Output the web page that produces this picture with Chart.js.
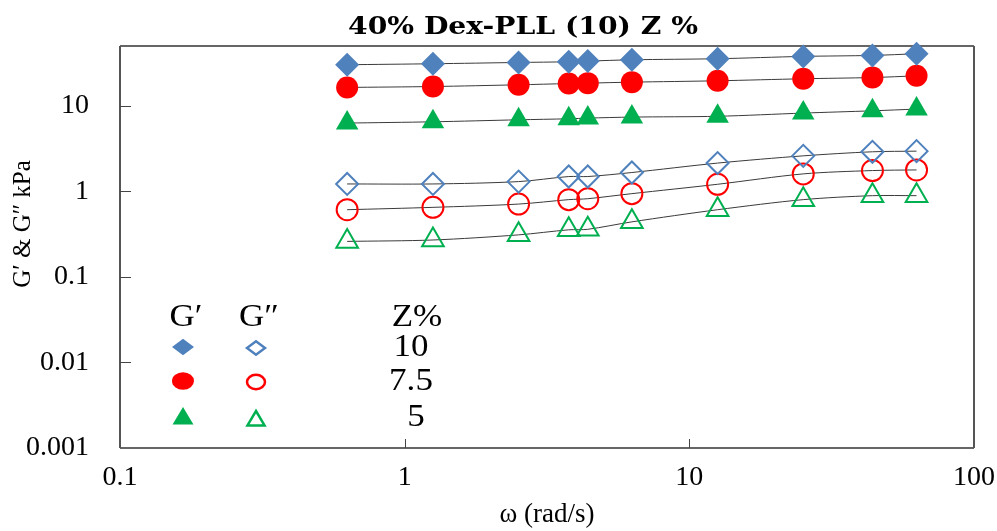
<!DOCTYPE html>
<html><head><meta charset="utf-8">
<script src="https://cdn.jsdelivr.net/npm/chart.js@4/dist/chart.umd.min.js"></script>
<style>html,body{margin:0;padding:0;background:#fff}#wrap{width:997px;height:531px}</style>
</head><body><div id="wrap"><canvas id="c" width="997" height="531"></canvas></div>
<script>
// ---- data ----
const omega  = [0.628, 1.257, 2.513, 3.77, 4.398, 6.283, 12.57, 25.13, 43.98, 62.83];
const gp10   = [30.2, 31.0, 32.1, 32.7, 33.3, 34.5, 35.5, 37.8, 38.8, 40.6];
const gp75   = [16.4, 16.8, 17.6, 18.2, 18.4, 18.9, 19.6, 20.7, 21.4, 22.4];
const gp5    = [6.28, 6.50, 6.86, 7.05, 7.18, 7.38, 7.54, 8.22, 8.74, 9.15];
const gpp10  = [1.22, 1.22, 1.30, 1.49, 1.49, 1.66, 2.14, 2.60, 2.90, 2.95];
const gpp75  = [0.61, 0.65, 0.71, 0.80, 0.82, 0.94, 1.21, 1.60, 1.75, 1.78];
const gpp5   = [0.26, 0.27, 0.31, 0.355, 0.36, 0.44, 0.61, 0.80, 0.89, 0.89];
const xTicks = [0.1, 1, 10, 100];
const yTicks = [0.001, 0.01, 0.1, 1, 10];
const zLabels = ['10', '7.5', '5'];

const BLUE = '#4F81BD', RED = '#FF0000', GREEN = '#00B050';
const SERIF = '"Liberation Serif", "Times New Roman", serif';

function pts(ys){ return omega.map((x,i)=>({x:x, y:ys[i]})); }
function ds(label, ys, color, style, filled, r){
  return {
    label, data: pts(ys), showLine: true, clip: false,
    borderColor: '#3a3a3a', borderWidth: 1, tension: 0.3,
    pointStyle: style, pointRadius: r, pointHoverRadius: r,
    pointBackgroundColor: filled ? color : 'rgba(0,0,0,0)',
    pointBorderColor: color, pointBorderWidth: filled ? 0 : 2
  };
}

function shape(ctx, kind, x, y, r, color, filled){
  ctx.beginPath();
  if (kind === 'diamond'){
    ctx.moveTo(x - r, y); ctx.lineTo(x, y - r*0.75); ctx.lineTo(x + r, y); ctx.lineTo(x, y + r*0.75); ctx.closePath();
  } else if (kind === 'circle'){
    ctx.ellipse(x, y, r, r*0.8, 0, 0, Math.PI*2);
  } else {
    ctx.moveTo(x, y - r); ctx.lineTo(x + r*0.95, y + r*0.6); ctx.lineTo(x - r*0.95, y + r*0.6); ctx.closePath();
  }
  if (filled){ ctx.fillStyle = color; ctx.fill(); }
  else { ctx.strokeStyle = color; ctx.lineWidth = 2.5; ctx.stroke(); }
}

function wideText(ctx, txt, x, y, sx){
  ctx.save(); ctx.translate(x, y); ctx.scale(sx, 1); ctx.fillText(txt, 0, 0); ctx.restore();
}

const frame = {
  id: 'frame',
  beforeDatasetsDraw(chart){
    const {ctx, chartArea:a, scales} = chart;
    ctx.save();
    ctx.lineCap = 'butt';
    ctx.strokeStyle = '#333'; ctx.lineWidth = 1.5;
    ctx.beginPath(); ctx.moveTo(a.left, a.top); ctx.lineTo(a.right, a.top); ctx.stroke();
    ctx.beginPath(); ctx.moveTo(a.left, a.bottom); ctx.lineTo(a.right, a.bottom); ctx.stroke();
    ctx.strokeStyle = '#555'; ctx.lineWidth = 2;
    ctx.beginPath(); ctx.moveTo(a.left, a.top); ctx.lineTo(a.left, a.bottom); ctx.stroke();
    ctx.beginPath(); ctx.moveTo(a.right, a.top); ctx.lineTo(a.right, a.bottom); ctx.stroke();
    ctx.strokeStyle = '#444'; ctx.lineWidth = 1;
    yTicks.forEach(v=>{
      const y = Math.round(scales.y.getPixelForValue(v)) + 0.5;
      if (y > a.top + 2 && y < a.bottom - 2){ ctx.beginPath(); ctx.moveTo(a.left, y); ctx.lineTo(a.left + 11, y); ctx.stroke(); }
    });
    xTicks.forEach(v=>{
      const x = Math.round(scales.x.getPixelForValue(v)) + 0.5;
      if (x > a.left + 2 && x < a.right - 2){ ctx.beginPath(); ctx.moveTo(x, a.bottom); ctx.lineTo(x, a.bottom - 9); ctx.stroke(); }
    });
    ctx.restore();
  },
  afterDraw(chart){
    const {ctx} = chart;
    ctx.save();
    // title
    ctx.fillStyle = '#000';
    ctx.font = 'bold 25px "DejaVu Serif", serif';
    ctx.textAlign = 'center'; ctx.textBaseline = 'middle';
    const tw = ctx.measureText('40% Dex-PLL (10) Z %').width;
    wideText(ctx, '40% Dex-PLL (10) Z %', 523, 27, 350 / tw);
    // y title
    ctx.save();
    ctx.translate(23, 224); ctx.rotate(-Math.PI/2);
    ctx.font = '25px ' + SERIF;
    ctx.fillText('G\u2032 & G\u2033 kPa', 0, 0);
    ctx.restore();
    // legend
    ctx.font = '31px ' + SERIF;
    wideText(ctx, 'G\u2032', 186, 318, 1.13);
    wideText(ctx, 'G\u2033', 259, 318, 1.13);
    wideText(ctx, 'Z%', 417, 318, 1.13);
    const kinds = ['diamond','circle','triangle'];
    const cols = [BLUE, RED, GREEN];
    const rowsY = [347, 381, 417];
    kinds.forEach((k,i)=>{
      shape(ctx, k, 183, rowsY[i] + (k==='triangle'?1:0), 11, cols[i], true);
      shape(ctx, k, 256, rowsY[i] + (k==='triangle'?3:1), 9, cols[i], false);
      ctx.fillStyle = '#000';
      wideText(ctx, zLabels[i], i===2 ? 416 : 411, rowsY[i] + 1, 1.13);
    });
    ctx.restore();
  }
};

new Chart(document.getElementById('c'), {
  type: 'scatter',
  data: { datasets: [
    ds("G' 10%", gp10, BLUE, 'rectRot', true, 12),
    ds("G' 7.5%", gp75, RED, 'circle', true, 11),
    ds("G' 5%", gp5, GREEN, 'triangle', true, 13),
    ds("G'' 10%", gpp10, BLUE, 'rectRot', false, 11),
    ds("G'' 7.5%", gpp75, RED, 'circle', false, 10.5),
    ds("G'' 5%", gpp5, GREEN, 'triangle', false, 12.5)
  ]},
  options: {
    responsive: false, animation: false, devicePixelRatio: 1,
    layout: { padding: { left: 0, right: 23, top: 46, bottom: 0 } },
    plugins: { legend: { display: false }, title: { display: false }, tooltip: { enabled: false } },
    scales: {
      x: {
        type: 'logarithmic', min: 0.1, max: 100,
        afterBuildTicks: s => { s.ticks = xTicks.map(v => ({ value: v })); },
        afterFit: s => { s.height = 83; s.paddingLeft = 0; s.paddingRight = 0; },
        ticks: { callback: v => String(v), font: { family: SERIF, size: 28 }, color: '#000', padding: 13, maxRotation: 0, autoSkip: false },
        grid: { display: false, drawTicks: false }, border: { display: false },
        title: { display: true, text: 'ω (rad/s)', font: { family: SERIF, size: 27 }, color: '#000', padding: { top: 0, bottom: 0 } }
      },
      y: {
        type: 'logarithmic', min: 0.001, max: 50,
        afterBuildTicks: s => { s.ticks = yTicks.map(v => ({ value: v })); },
        afterFit: s => { s.width = 120; s.paddingTop = 0; s.paddingBottom = 0; },
        ticks: { callback: v => String(v), font: { family: SERIF, size: 28 }, color: '#000', padding: 31, autoSkip: false },
        grid: { display: false, drawTicks: false }, border: { display: false }
      }
    }
  },
  plugins: [frame]
});
</script>
</body></html>
